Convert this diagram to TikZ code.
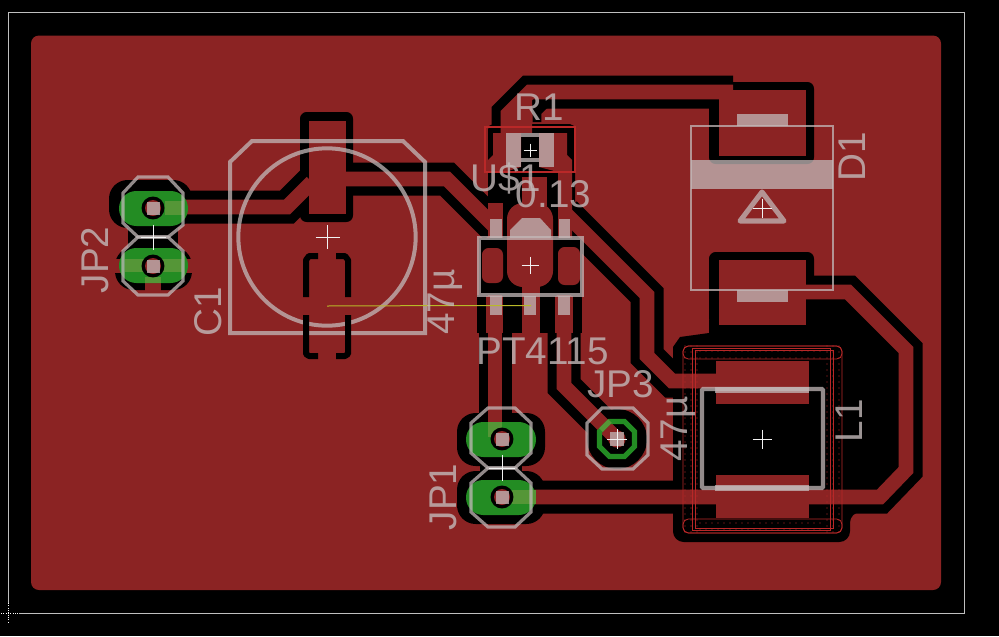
\documentclass[tikz,border=0pt]{standalone}
\usepackage{fontspec}
\setmainfont{Liberation Sans}
\definecolor{board}{RGB}{139,35,35}
\definecolor{silk}{RGB}{195,185,185}
\definecolor{padgreen}{RGB}{35,140,35}
\definecolor{padolive}{RGB}{85,150,55}
\definecolor{wire}{RGB}{185,40,40}
\definecolor{measure}{RGB}{185,185,40}
\begin{document}
\begin{tikzpicture}[x=0.75pt,y=-0.75pt]
    \tikzstyle{iso}=[draw=black, line width=24.75pt]
    \tikzstyle{trace}=[draw=board, line width=11pt]
    \tikzstyle{outline}=[draw=silk, opacity=0.75, line width=2.4pt]
    \tikzstyle{solid silk}=[fill=silk, opacity=0.75]
    \tikzstyle{cross}=[draw=white!90!gray, line width=0.75pt]
    \tikzstyle{bracket}=[draw=black, line width=4.5pt, line join=round]
    \tikzstyle{label}=[text=silk, text opacity=0.8, font=\fontsize{29}{29}\selectfont, inner sep=0pt]
    \tikzstyle{pill}=[fill=padgreen, rounded corners=13pt]
    \tikzstyle{pour}=[fill=black, rounded corners=14pt]

    % board
    \fill[black] (0,0) rectangle (999,636);
    \useasboundingbox (0,0) rectangle (999,636);
    \draw[draw=white!75!black, line width=0.75pt] (8.5,603) -- (8.5,12.5) -- (964.5,12.5) -- (964.5,613.5) -- (19,613.5);
    \draw[draw=white, line width=0.75pt, densely dotted] (1,613.5) -- (19,613.5) (8.5,603) -- (8.5,623);
    \fill[board, rounded corners=6pt] (31,35.5) rectangle (941,590);

    % clearance round the pads
    \fill[pour] (109,180) rectangle (192,228);
    \fill[black] (128,224) rectangle (178,252);
    \fill[pour] (115,247) rectangle (192,290);
    \fill[pour] (457,413) rectangle (545,466);
    \fill[pour] (457,471) rectangle (545,524);
    \fill[black] (480,460) rectangle (522,476);
    \fill[black] (617,439) circle (22.5pt);
    \fill[black, rounded corners=5pt] (300,112) rectangle (353,222);
    \fill[black, rounded corners=5pt] (709,82) rectangle (814,164);
    \fill[black, rounded corners=5pt] (709,252) rectangle (814,325);
    \fill[black, rounded corners=4pt] (488,124) rectangle (575,240);
    \fill[black] (479,238) rectangle (582,296);
    \fill[black] (477,295) rectangle (582,333);

    % clearance round the inductor
    \fill[black] (709,320) -- (806,320) -- (806,300) -- (843,300) -- (899,353) -- (899,467)
                 -- (876,490) -- (673,490) -- (673,347) -- (680,337) -- (709,333) -- cycle;
    \fill[black, rounded corners=8pt] (673,495) -- (673,542) -- (850,542) -- (850,512) -- (886,512) -- (886,495) -- cycle;

    % clearance round the traces
    \draw[iso] (165,207) -- (287,207) -- (312,182);
    \draw[iso] (346,179) -- (447,179) -- (496,228);
    \draw[iso] (733,92) -- (530,92) -- (508,114) -- (508,130);
    \draw[iso] (806,292) -- (848,292) -- (906,350) -- (906,470) -- (880,497) -- (520,497);
    \draw[iso] (565,213) -- (647,295) -- (647,356) -- (672,381) -- (716,381);
    \draw[iso] (495,310) -- (495,425);
    \draw[iso] (564,310) -- (564,386) -- (617,439);
    \draw[draw=black, line width=6.5pt] (560,103.5) -- (545,104) -- (537,112) -- (537,122);

    % copper
    \fill[board] (309,121) rectangle (346,214);
    \fill[board] (719,90) rectangle (806,156);
    \fill[board] (719,260) rectangle (806,325);
    \fill[board] (716,361) rectangle (809,404);
    \fill[board] (716,475) rectangle (809,518);
    \draw[trace] (165,207) -- (287,207) -- (312,182);
    \draw[trace] (346,179) -- (447,179) -- (496,228);
    \draw[trace] (733,92) -- (530,92) -- (508,114) -- (508,133);
    \fill[board] (501,133) -- (501,118) -- (525,99.5) -- (532,99.5) -- (532,133) -- cycle;
    \draw[trace] (806,292) -- (848,292) -- (906,350) -- (906,470) -- (880,497) -- (520,497);
    \draw[trace] (565,213) -- (647,295) -- (647,356) -- (672,381) -- (716,381);
    \draw[trace, line width=10.5pt] (495,295) -- (495,437);
    \draw[trace] (564,295) -- (564,386) -- (617,439);
    \fill[board] (486,296) rectangle (503,333);
    \fill[board] (555,296) rectangle (573,333);
    \fill[board] (522,296) rectangle (540,336);

    % R1 pads and the pins of U$1
    \fill[board] (493,133) -- (521,133) -- (521,167) -- (505,172) -- (488,172) -- (488,160) -- (493,155) -- cycle;
    \fill[board] (539,133) -- (567,133) -- (567,155) -- (572,160) -- (572,238) -- (558,238) -- (558,172) -- (539,167) -- cycle;
    \fill[board] (522,177) rectangle (547,206);
    \fill[board] (488,203) rectangle (503,238);
    \fill[board, rounded corners=12pt] (507,287) -- (507,203) -- (553,203) -- (553,287) -- cycle;
    \fill[board] (522,280) rectangle (540,296);
    \fill[board, rounded corners=5pt] (482,248) rectangle (503,283);
    \fill[board, rounded corners=5pt] (558,247) rectangle (580,285);

    % thermal spokes of the lower JP2 pad
    \draw[trace, line width=10pt] (113,266) -- (193,266);
    \draw[trace, line width=12pt] (153,266) -- (153,300);

    % pads
    \fill[pill] (119,191) rectangle (188,226);
    \fill[pill] (119,248) rectangle (188,283);
    \fill[pill] (466,422) rectangle (536,457);
    \fill[pill] (466,480) rectangle (536,515);
    \fill[padolive] (165,201) rectangle (183,215);
    \fill[padolive] (125,259) rectangle (145,272);
    \fill[padolive] (162,259) rectangle (182,272);
    \fill[padolive] (145,277) rectangle (161,283);
    \fill[padolive] (488,422) rectangle (502,437);
    \fill[padolive] (512,490) rectangle (536,504);
    \draw[draw=padgreen, line width=3.8pt] (624.5,421.5) -- (634.5,431.5) -- (634.5,446.5) -- (624.5,456.5)
                                            -- (609.5,456.5) -- (599.5,446.5) -- (599.5,431.5) -- (609.5,421.5) -- cycle;
    \draw[draw=padolive, line width=3.8pt] (601,430) -- (610,421);

    % holes
    \foreach \px/\py in {153/208, 153/266, 502/439, 502/497} {
        \fill[black] (\px,\py) circle (8.6pt);
        \fill[board] (\px,\py) circle (6pt);
        \fill[solid silk] (\px-6.5,\py-6.5) rectangle (\px+6.5,\py+6.5);
    }
    \fill[board] (617,439) circle (6.5pt);
    \fill[solid silk] (610,432) rectangle (624,446);

    % inductor body, thin outlines and dots
    \foreach \dx in {685,691,697,827,833,839} \foreach \dy in {346,352,...,532}
        \fill[wire] (\dx,\dy) circle (0.4pt);
    \foreach \dy in {351,358,529,523} \foreach \dx in {700,706,...,824}
        \fill[wire] (\dx,\dy) circle (0.4pt);
    \draw[draw=wire, line width=0.6pt, rounded corners=4pt] (683,346) rectangle (842,533);
    \draw[draw=wire, line width=0.6pt, rounded corners=4pt] (683,346) rectangle (842,359);
    \draw[draw=wire, line width=0.6pt, rounded corners=4pt] (683,519) rectangle (842,533);
    \draw[draw=wire, line width=0.6pt] (692,348) rectangle (830,530);
    \draw[draw=wire, line width=0.6pt] (695,350) rectangle (833,528);

    % silk
    \draw[outline, rounded corners=1pt, line width=3.3pt] (702,389) rectangle (823,488);
    \fill[solid silk] (715,387) rectangle (809,393);
    \fill[solid silk] (715,485) rectangle (809,491);
    \draw[outline, line width=3pt] (230,162) -- (252,141) -- (403,141) -- (425,162) -- (425,333) -- (230,333) -- cycle;
    \draw[outline, line width=3pt] (327,237) circle (66.5pt);
    \draw[bracket] (318,256) -- (309,256) -- (306,260) -- (306,297);
    \draw[bracket] (336,256) -- (345,256) -- (348,260) -- (348,297);
    \draw[bracket] (306,315) -- (306,354) -- (309,356) -- (318,356);
    \draw[bracket] (348,315) -- (348,354) -- (345,356) -- (336,356);
    \draw[draw=wire, line width=0.9pt] (485,127) rectangle (575,172);
    \fill[solid silk] (506,133) rectangle (521,167);
    \fill[solid silk] (539,133) rectangle (554,167);
    \fill[solid silk] (521,133) rectangle (539,137);
    \fill[solid silk] (521,158) rectangle (539,162);
    \fill[solid silk] (490,219) rectangle (502,238);
    \fill[solid silk] (559,219) rectangle (570,238);
    \fill[solid silk] (510,230) -- (522,218) -- (540,218) -- (551,230) -- (551,238) -- (510,238) -- cycle;
    \fill[solid silk] (490,296) rectangle (502,315);
    \fill[solid silk] (524,296) rectangle (536,315);
    \fill[solid silk] (558,296) rectangle (570,315);
    \draw[outline] (479,238) rectangle (582,295);
    \draw[outline, line width=2.1pt] (691,126) rectangle (833,290);
    \fill[solid silk] (691,160) rectangle (833,189);
    \fill[solid silk] (737,114) rectangle (788,126);
    \fill[solid silk] (737,290) rectangle (788,302);
    \draw[outline, line join=round, line width=3.8pt] (762,192) -- (740,221) -- (784,221) -- cycle;
    \draw[outline] (138,177) -- (168,177) -- (183,193) -- (183,225) -- (168,237) -- (138,237) -- (123,223) -- (123,193) -- cycle;
    \draw[outline] (138,237) -- (168,237) -- (183,251) -- (183,281) -- (168,295) -- (138,295) -- (123,281) -- (123,251) -- cycle;
    \draw[outline] (488,408) -- (515,408) -- (531,423) -- (531,453) -- (515,468) -- (488,468) -- (471,453) -- (471,423) -- cycle;
    \draw[outline] (488,468) -- (515,468) -- (531,483) -- (531,512) -- (515,527) -- (488,527) -- (471,512) -- (471,483) -- cycle;
    \draw[outline] (602,408) -- (633,408) -- (648,423) -- (648,455) -- (633,469) -- (602,469) -- (587,455) -- (587,423) -- cycle;

    % yellow measure line
    \draw[draw=measure, line width=0.75pt] (327,306) -- (470,305.5) -- (531,305.5);

    % centre marks
    \foreach \cx/\cy/\arm in {327.5/237/12, 530/150/6.5, 530/265/8.5, 762/208/9.5, 762/439/9.5, 153/237/12.5, 502/468/13, 617/439/10}
        \draw[cross] (\cx-\arm,\cy) -- (\cx+\arm,\cy) (\cx,\cy-\arm) -- (\cx,\cy+\arm);

    % names and values
    \node[label] (nameR1) at (539.5,107.5) {R1};
    \node[label] (nameU1) at (506,179) {U\$1};
    \node[label] (valueR1) at (553.5,194) {0.13};
    \node[label] (valueU1) at (542.5,351) {PT4115};
    \node[label] (nameJP3) at (620.5,384) {JP3};
    \node[label, rotate=90] (nameD1) at (852.5,157) {D1};
    \node[label, rotate=90] (nameL1) at (849,420.5) {L1};
    \node[label, rotate=90] (valueL1) at (678,429) {47µ};
    \node[label, rotate=90] (valueC1) at (445,302) {47µ};
    \node[label, rotate=90] (nameC1) at (208.5,311.5) {C1};
    \node[label, rotate=90] (nameJP1) at (443.5,497) {JP1};
    \node[label, rotate=90] (nameJP2) at (95,260) {JP2};
\end{tikzpicture}
\end{document}
